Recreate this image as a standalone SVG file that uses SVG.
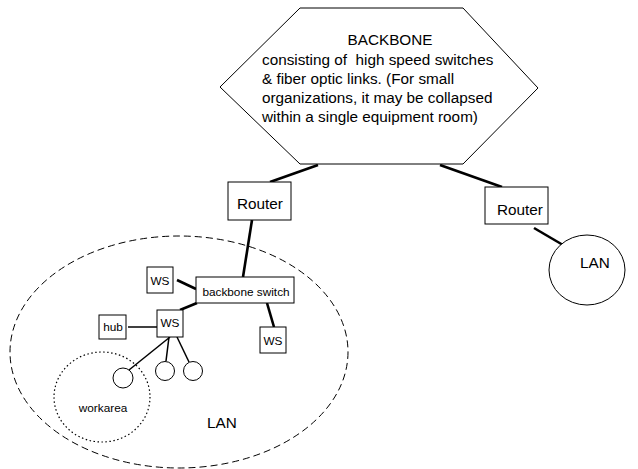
<svg xmlns="http://www.w3.org/2000/svg" width="638" height="469" viewBox="0 0 638 469">
<style>
.shape{fill:#fff;stroke:#000;stroke-width:1}
.t{font-family:"Liberation Sans",Arial,sans-serif;fill:#000}
.big{font-size:15.3px}
.sm{font-size:11.8px}
.mid{text-anchor:middle}
.thick{stroke:#000;stroke-width:2.6;fill:none}
.thin{stroke:#000;stroke-width:1.5;fill:none}
</style>
<rect width="638" height="469" fill="#fff"/>
<g id="lan-area">
<ellipse cx="179" cy="352" rx="169" ry="116" fill="none" stroke="#000" stroke-width="1" stroke-dasharray="7,4"/>
<text class="t big mid" x="222" y="428">LAN</text>
</g>
<g id="workarea">
<ellipse cx="102" cy="397" rx="48" ry="45" fill="none" stroke="#000" stroke-width="1.2" stroke-dasharray="1.5,2.5"/>
<text class="t sm mid" x="103" y="412">workarea</text>
</g>
<g id="connectors">
<line class="thick" x1="270" y1="182" x2="318" y2="165"/>
<line class="thick" x1="440" y1="165" x2="502" y2="187"/>
<line class="thick" x1="252" y1="220" x2="243" y2="277"/>
<line class="thick" x1="534" y1="228" x2="563" y2="245"/>
<line class="thick" x1="177" y1="280" x2="196" y2="289"/>
<line class="thick" x1="197" y1="303" x2="180" y2="310"/>
<line class="thick" x1="267" y1="303" x2="274" y2="327"/>
<line class="thin" x1="128" y1="327" x2="157" y2="327"/>
<line class="thin" x1="170" y1="337" x2="129" y2="370"/>
<line class="thin" x1="169" y1="337" x2="166" y2="361"/>
<line class="thin" x1="177" y1="337" x2="189" y2="362"/>
</g>
<g id="backbone">
<polygon class="shape" points="300,8 463,8 538,88 463,164 300,164 220,87"/>
<text class="t big mid" x="390" y="45">BACKBONE</text>
<text class="t big" x="262" y="65" xml:space="preserve">consisting of  high speed switches</text>
<text class="t big" x="262" y="84">&amp; fiber optic links. (For small</text>
<text class="t big" x="262" y="103">organizations, it may be collapsed</text>
<text class="t big" x="262" y="122">within a single equipment room)</text>
</g>
<g id="router1">
<rect class="shape" x="228" y="182" width="63" height="38"/>
<text class="t big mid" x="260" y="209">Router</text>
</g>
<g id="router2">
<rect class="shape" x="485" y="187" width="63" height="37"/>
<text class="t big mid" x="520" y="215">Router</text>
</g>
<g id="lan2">
<ellipse class="shape" cx="587" cy="270" rx="38" ry="35"/>
<text class="t big mid" x="595" y="268">LAN</text>
</g>
<g id="switch">
<rect class="shape" x="196" y="277" width="98" height="26"/>
<text class="t sm mid" x="246" y="296">backbone switch</text>
</g>
<g id="ws1">
<rect class="shape" x="147" y="267" width="26" height="26"/>
<text class="t sm mid" x="160" y="285">WS</text>
</g>
<g id="ws2">
<rect class="shape" x="157" y="310" width="26" height="27"/>
<text class="t sm mid" x="170" y="327">WS</text>
</g>
<g id="hub">
<rect class="shape" x="99" y="315" width="27" height="24"/>
<text class="t sm mid" x="113" y="331">hub</text>
</g>
<g id="ws3">
<rect class="shape" x="260" y="327" width="26" height="26"/>
<text class="t sm mid" x="273" y="345">WS</text>
</g>
<g id="pc1"><circle class="shape" cx="123" cy="378" r="10"/></g>
<g id="pc2"><circle class="shape" cx="165" cy="371" r="9.5"/></g>
<g id="pc3"><circle class="shape" cx="193" cy="371" r="9.5"/></g>
</svg>
